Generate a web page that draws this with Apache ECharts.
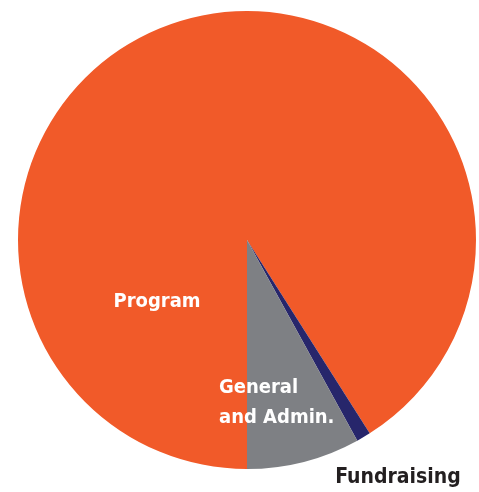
<!DOCTYPE html>
<html><head><meta charset="utf-8">
<script src="https://cdn.jsdelivr.net/npm/echarts@6/dist/echarts.min.js"></script>
<style>html,body{margin:0;padding:0;background:#fff}#c{width:479px;height:492px}</style>
</head><body><div id="c"></div>
<script>
const categories = ["Program", "Fundraising", "General\nand Admin."];
const values = [91, 1, 8];
const colors = ["#F15A29", "#27266B", "#7E8084"];
const labelColors = ["#ffffff", "#231F20", "#ffffff"];
const labelPos = [[157, 302], [398, 478], [219, 403]];
const labelAlign = ["center", "center", "left"];
const labelSize = [20, 21, 20];

const chart = echarts.init(document.getElementById('c'));
chart.setOption({
  animation: false,
  series: [{
    type: 'pie',
    center: [247, 240],
    radius: [0, 229],
    startAngle: -90,
    clockwise: true,
    silent: true,
    itemStyle: { borderWidth: 0 },
    label: {
      show: true,
      position: 'inside',
      formatter: '{b}',
      fontFamily: "'DejaVu Sans Condensed', 'Liberation Sans Narrow', sans-serif",
      fontWeight: 'bold',
      fontSize: 20,
      lineHeight: 30
    },
    labelLine: { show: false },
    labelLayout: function (p) {
      const i = p.dataIndex;
      return { x: labelPos[i][0], y: labelPos[i][1], align: labelAlign[i], verticalAlign: 'middle', hideOverlap: false };
    },
    data: categories.map((c, i) => ({
      name: c, value: values[i],
      itemStyle: { color: colors[i] },
      label: { color: labelColors[i], align: labelAlign[i], fontSize: labelSize[i] }
    }))
  }]
});
</script></body></html>
